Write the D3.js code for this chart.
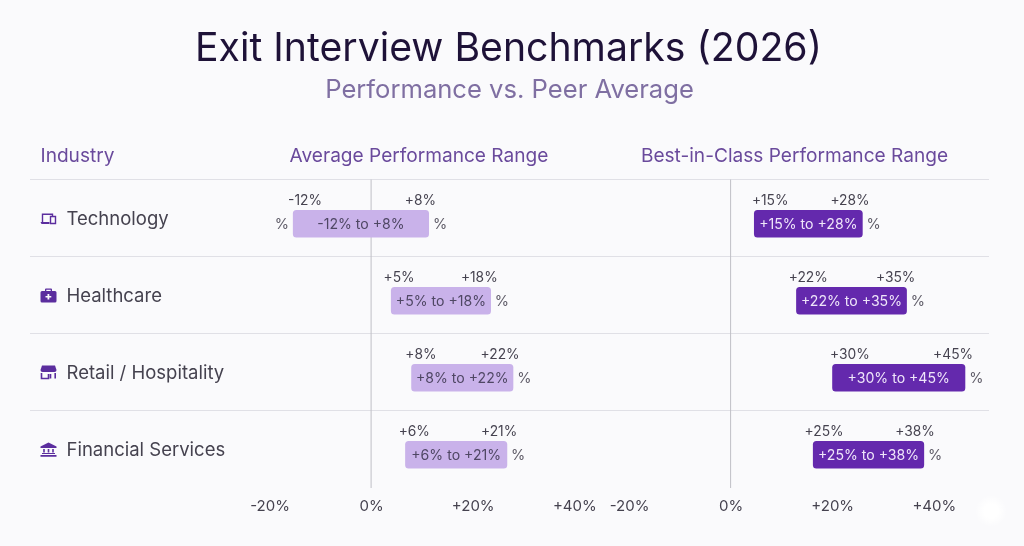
<!DOCTYPE html>
<html><head><meta charset="utf-8">
<script src="https://cdn.jsdelivr.net/npm/d3@7/dist/d3.min.js"></script>
<style>
html,body{margin:0;padding:0;background:#fafafc}
svg{display:block;filter:blur(0.4px)}
text{font-family:Inter,"Noto Sans",sans-serif}
</style></head><body>
<svg id="c" width="1024" height="546"></svg>
<script>
const title = "Exit Interview Benchmarks (2026)";
const subtitle = "Performance vs. Peer Average";
const headers = ["Industry", "Average Performance Range", "Best-in-Class Performance Range"];
const industries = ["Technology", "Healthcare", "Retail / Hospitality", "Financial Services"];
const tickValues = [-20, 0, 20, 40];
const tickLabels = ["-20%", "0%", "+20%", "+40%"];

// labels as printed
const avgLowLabels  = ["-12%", "+5%", "+8%", "+6%"];
const avgHighLabels = ["+8%", "+18%", "+22%", "+21%"];
const bestLowLabels  = ["+15%", "+22%", "+30%", "+25%"];
const bestHighLabels = ["+28%", "+35%", "+45%", "+38%"];
const avgRangeLabels  = ["-12% to +8%", "+5% to +18%", "+8% to +22%", "+6% to +21%"];
const bestRangeLabels = ["+15% to +28%", "+22% to +35%", "+30% to +45%", "+25% to +38%"];

// extents of the bars as drawn, read against the axis
const avgBarStart  = [-15.4, 3.9, 7.9, 6.7];
const avgBarEnd    = [11.4, 23.6, 28.0, 26.8];
const bestBarStart = [4.6, 12.9, 20.0, 16.2];
const bestBarEnd   = [26.0, 34.7, 46.2, 38.1];

// where the small labels above each bar sit, read against the axis
const avgLowAt   = [-13.0, 5.5, 9.8, 8.5];
const avgHighAt  = [9.7, 21.3, 25.4, 25.2];
const bestLowAt  = [7.8, 15.3, 23.5, 18.4];
const bestHighAt = [23.5, 32.5, 43.8, 36.3];

const svg = d3.select("#c");
const cText = "#45424f", cHead = "#6a4a9c", cIcon = "#5b2d9e";

const defs = svg.append("defs");
const rg = defs.append("radialGradient").attr("id", "glow");
rg.append("stop").attr("offset", "45%").attr("stop-color", "#fff").attr("stop-opacity", 1);
rg.append("stop").attr("offset", "100%").attr("stop-color", "#fff").attr("stop-opacity", 0);

svg.append("rect").attr("width", 1024).attr("height", 546).attr("fill", "#fafafc");
svg.append("circle").attr("cx", 991).attr("cy", 511).attr("r", 16).attr("fill", "url(#glow)");

svg.append("text").attr("x", 508.5).attr("y", 61).attr("text-anchor", "middle")
  .attr("font-size", 39.2).attr("font-weight", 400).attr("fill", "#1e1238").text(title);
svg.append("text").attr("x", 509.5).attr("y", 98).attr("text-anchor", "middle")
  .attr("font-size", 25.6).attr("fill", "#7f6fa2").text(subtitle);

const headAt = [[40.5, "start"], [419, "middle"], [794.5, "middle"]];
headers.forEach((h, i) => svg.append("text").attr("x", headAt[i][0]).attr("y", 161.5)
  .attr("text-anchor", headAt[i][1]).attr("font-size", 19.1).attr("font-weight", 400)
  .attr("fill", cHead).text(h));

const y = d3.scaleBand().domain(industries).range([179.5, 487.5]);
const xAvg  = d3.scaleLinear().domain([-20, 40]).range([269.5, 574.3]);
const xBest = d3.scaleLinear().domain([-20, 40]).range([629, 933.8]);

// row rules
svg.append("g").selectAll("line").data(industries).join("line")
  .attr("x1", 30).attr("x2", 989)
  .attr("y1", d => y(d)).attr("y2", d => y(d))
  .attr("stroke", "#e0e0e6").attr("stroke-width", 1);

// zero lines
[xAvg, xBest].forEach(x => svg.append("line")
  .attr("x1", x(0)).attr("x2", x(0)).attr("y1", 179.5).attr("y2", 488)
  .attr("stroke", "#bfbfc6").attr("stroke-width", 1));

// row labels
svg.append("g").selectAll("text").data(industries).join("text")
  .attr("x", 66.5).attr("y", d => y(d) + y.bandwidth() / 2 + 7)
  .attr("font-size", 18.5).attr("fill", cText).text(d => d);

// icons
const icons = [
  g => { g.append("path").attr("fill", "none").attr("stroke", cIcon).attr("stroke-width", 1.4)
           .attr("d", "M2.5 11V3.2h10V5M10.5 5.5h5v7h-5z");
         g.append("path").attr("fill", cIcon).attr("d", "M0.5 11h9v2h-8z"); },
  g => { g.append("path").attr("fill", cIcon).attr("fill-rule", "evenodd")
           .attr("d", "M5 3V1.5Q5 .5 6 .5h5q1 0 1 1V3h3q1.500 0 1.500 1.500V13q0 1.500-1.500 1.500H2Q.5 14.500 .5 13V4.500Q.5 3 2 3zM6.300 3h4.400V1.800H6.300zM7.500 6v2H5.500v1.600h2v2h1.800v-2h2V8h-2V6z"); },
  g => { g.append("path").attr("fill", cIcon).attr("d", "M2 .5h13l1.500 4.500q0 2-2 2H2.500q-2 0-2-2z");
         g.append("path").attr("fill", "none").attr("stroke", cIcon).attr("stroke-width", 1.6)
           .attr("d", "M1.500 8v5.500h7V9M10.500 9v4.500h0M15.200 8v5.500"); },
  g => { g.append("path").attr("fill", cIcon).attr("d", "M8.500 .5L16.500 4.500v1.500H.5V4.500zM.5 13h16v1.800H.5zM2 11h13v1H2z");
         g.append("path").attr("fill", "none").attr("stroke", cIcon).attr("stroke-width", 1.6)
           .attr("d", "M4 7v3.500M8.500 7v3.500M13 7v3.500"); }
];
industries.forEach((d, i) => {
  const g = svg.append("g").attr("transform", `translate(40,${y(d) + y.bandwidth() / 2 - 7})`);
  icons[i](g);
});

function panel(x, starts, ends, lowAt, highAt, lowLabels, highLabels, rangeLabels, fill, ink) {
  const g = svg.append("g");
  const rows = g.selectAll("g").data(industries).join("g")
    .attr("transform", d => `translate(0,${y(d)})`);
  rows.append("rect")
    .attr("x", (d, i) => x(starts[i])).attr("y", 30.500)
    .attr("width", (d, i) => x(ends[i]) - x(starts[i])).attr("height", 27.500)
    .attr("rx", 3.500).attr("fill", fill);
  rows.append("text").attr("text-anchor", "middle").attr("font-size", 14.100).attr("fill", ink)
    .attr("x", (d, i) => (x(starts[i]) + x(ends[i])) / 2).attr("y", 49.800)
    .text((d, i) => rangeLabels[i]);
  const small = (at, labels) => rows.append("text").attr("text-anchor", "middle")
    .attr("font-size", 13.800).attr("fill", cText)
    .attr("x", (d, i) => x(at[i])).attr("y", 25).text((d, i) => labels[i]);
  small(lowAt, lowLabels);
  small(highAt, highLabels);
  rows.append("text").attr("text-anchor", "middle").attr("font-size", 14.500).attr("fill", "#5f5c68")
    .attr("x", (d, i) => x(ends[i]) + 11).attr("y", 49.800).text("%");
  // stray % left of any bar that starts below zero
  rows.filter((d, i) => starts[i] < 0).append("text")
    .attr("text-anchor", "middle").attr("font-size", 14.500).attr("fill", "#5f5c68")
    .attr("x", (d) => x(starts[industries.indexOf(d)]) - 11).attr("y", 49.800).text("%");
  const axis = d3.axisBottom(x).tickValues(tickValues).tickSize(0)
    .tickFormat((d, i) => tickLabels[i]);
  const ag = g.append("g").attr("transform", "translate(0,497)").call(axis);
  ag.select(".domain").remove();
  ag.selectAll("text").attr("font-size", 15).attr("fill", cText)
    .style("font-family", "Inter,sans-serif");
}
panel(xAvg, avgBarStart, avgBarEnd, avgLowAt, avgHighAt, avgLowLabels, avgHighLabels, avgRangeLabels, "#c9b2ea", "#4f4764");
panel(xBest, bestBarStart, bestBarEnd, bestLowAt, bestHighAt, bestLowLabels, bestHighLabels, bestRangeLabels, "#6429ad", "#efe6fa");
</script>
</body></html>
